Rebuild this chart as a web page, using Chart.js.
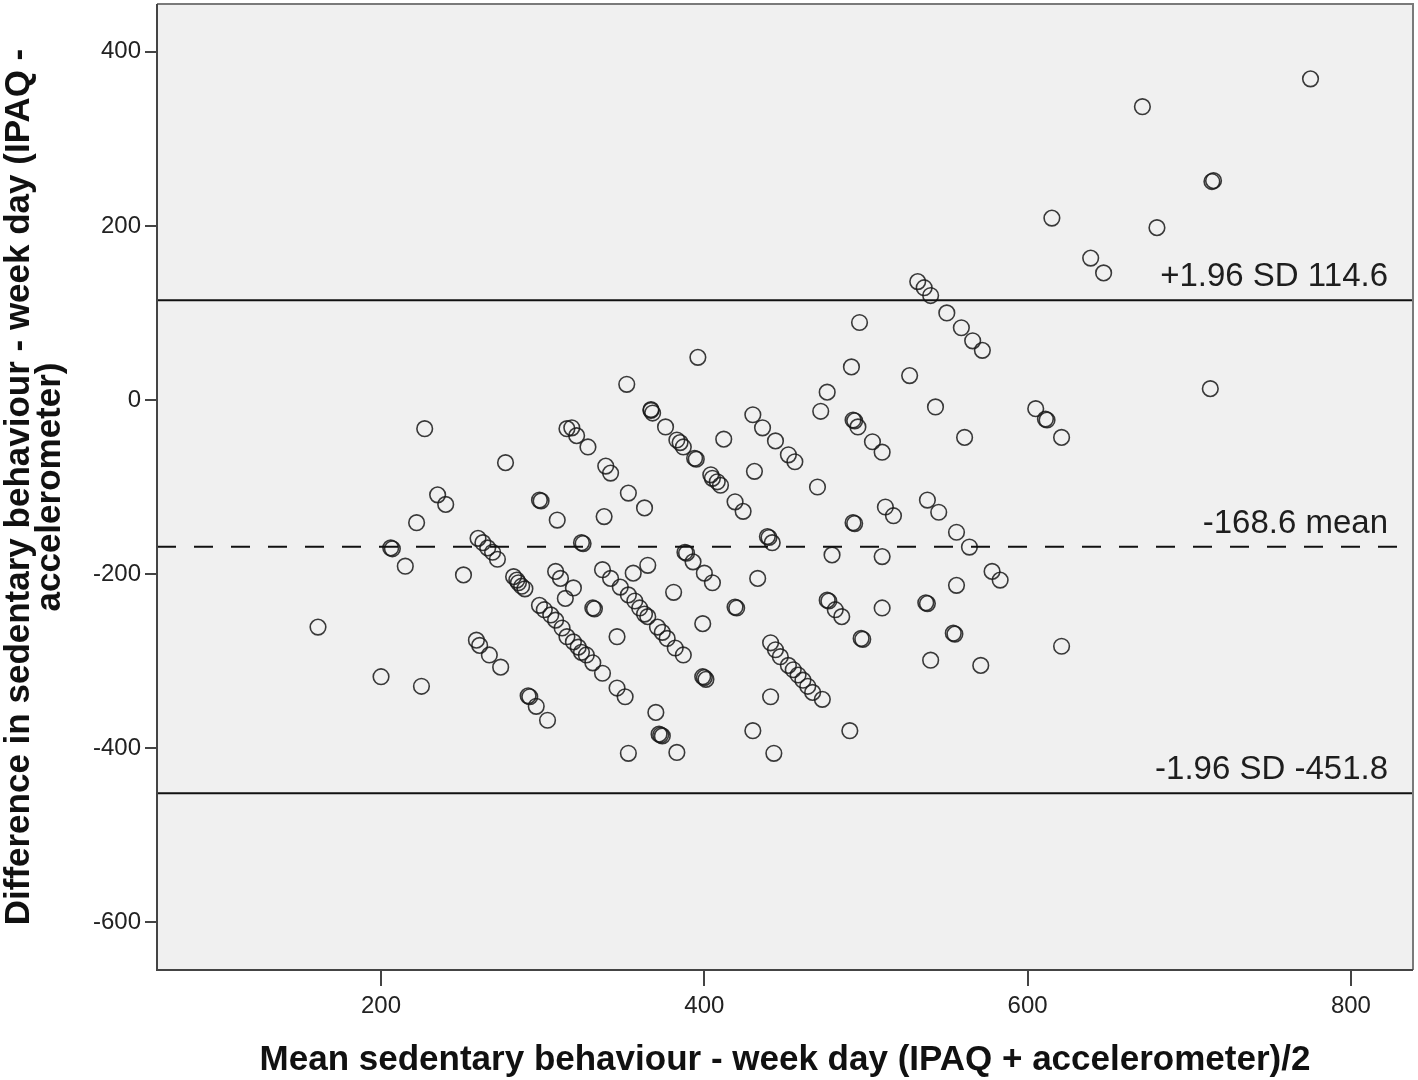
<!DOCTYPE html>
<html>
<head>
<meta charset="utf-8">
<script src="https://cdn.jsdelivr.net/npm/chart.js@4.4.1/dist/chart.umd.min.js"></script>
<style>
  body { margin: 0; background: #ffffff; }
  #wrap { width: 1418px; height: 1080px; }
</style>
</head>
<body>
<div id="wrap"><canvas id="bland" width="1418" height="1080"></canvas></div>
<script>
// Medias (IPAQ + acelerometro)/2
const meanVals = [
  161, 200, 225, 227, 206, 207, 215, 222, 235, 240,
  251, 260, 263, 266, 269, 272, 277, 282, 284, 285,
  287, 289, 298, 299, 309, 315, 259, 261, 267, 274,
  291, 292, 296, 303, 298, 301, 305, 308, 312, 315,
  319, 322, 324, 327, 331, 337, 346, 351, 308, 311,
  319, 314, 318, 321, 328, 339, 342, 353, 363, 338,
  324, 325, 352, 396, 367, 367, 368, 376, 383, 385,
  387, 394, 395, 404, 405, 408, 410, 419, 424, 412,
  430, 436, 444, 452, 456, 431, 470, 476, 472, 491,
  492, 493, 495, 504, 510, 496, 527, 543, 561, 532,
  536, 540, 550, 559, 566, 572, 439, 440, 442, 492,
  493, 512, 517, 538, 545, 556, 564, 479, 510, 388,
  389, 393, 400, 405, 433, 419, 420, 399, 381, 365,
  356, 337, 342, 348, 353, 357, 360, 363, 365, 371,
  374, 377, 382, 387, 331, 332, 346, 476, 477, 481,
  485, 510, 537, 538, 556, 497, 498, 554, 555, 540,
  571, 441, 444, 447, 452, 455, 458, 461, 464, 467,
  473, 399, 400, 401, 370, 373, 374, 372, 353, 383,
  441, 430, 443, 490, 578, 583, 605, 611, 612, 621,
  621, 713, 615, 639, 647, 671, 714, 715, 680, 775
];
// Diferencias (IPAQ - acelerometro)
const diffVals = [
  -261, -318, -329, -33, -170, -171, -191, -141, -109, -120,
  -201, -159, -164, -170, -175, -183, -72, -203, -207, -210,
  -214, -217, -115, -116, -138, -33, -276, -282, -293, -307,
  -340, -341, -352, -368, -236, -241, -247, -253, -262, -272,
  -278, -284, -290, -293, -302, -314, -331, -341, -197, -205,
  -216, -228, -32, -41, -54, -76, -84, -107, -124, -134,
  -164, -165, 18, 49, -11, -12, -15, -31, -46, -49,
  -54, -67, -68, -86, -90, -94, -98, -117, -128, -45,
  -17, -32, -47, -63, -71, -82, -100, 9, -13, 38,
  -23, -24, -31, -48, -60, 89, 28, -8, -43, 136,
  129, 120, 100, 83, 68, 57, -157, -158, -164, -141,
  -142, -123, -133, -115, -129, -152, -169, -178, -180, -175,
  -176, -186, -199, -210, -205, -238, -239, -257, -221, -190,
  -199, -195, -205, -215, -224, -231, -239, -246, -249, -261,
  -267, -274, -285, -293, -239, -240, -272, -230, -231, -241,
  -249, -239, -233, -234, -213, -274, -275, -268, -269, -299,
  -305, -279, -287, -295, -305, -310, -316, -322, -329, -336,
  -344, -318, -319, -321, -359, -385, -386, -384, -406, -405,
  -341, -380, -406, -380, -197, -207, -10, -22, -23, -43,
  -283, 13, 209, 163, 146, 337, 251, 252, 198, 369
];

// Lineas de referencia
const refValues = [114.6, -168.6, -451.8];
const refLabels = ["+1.96 SD 114.6", "-168.6 mean", "-1.96 SD -451.8"];
const refDashed = [false, true, false];

// Marcas de los ejes
const xTicks = [200, 400, 600, 800];
const yTicks = [-600, -400, -200, 0, 200, 400];
const xRange = [61.4, 838.4];
const yRange = [-655, 455];

const xTitle = "Mean sedentary behaviour - week day (IPAQ + accelerometer)/2";
const yTitle = ["Difference in sedentary behaviour - week day (IPAQ -", "accelerometer)"];

const puntos = meanVals.map((m, i) => ({ x: m, y: diffVals[i] }));

const lineasRef = refValues.map((v, i) => ({
  type: "line",
  showLine: true,
  data: [{ x: xRange[0], y: v }, { x: xRange[1], y: v }],
  borderColor: "#111111",
  borderWidth: 2,
  borderDash: refDashed[i] ? [19, 18] : [],
  pointRadius: 0,
  fill: false
}));

// Fondo gris, marco y textos
const decorado = {
  id: "decorado",
  beforeDraw(chart) {
    const { ctx, chartArea: a } = chart;
    ctx.save();
    ctx.fillStyle = "#f0f0f0";
    ctx.fillRect(a.left, a.top, a.right - a.left, a.bottom - a.top);
    ctx.restore();
  },
  afterDraw(chart) {
    const { ctx, chartArea: a, scales } = chart;
    ctx.save();
    // marco
    ctx.strokeStyle = "#7a7a7a";
    ctx.lineWidth = 2;
    ctx.beginPath();
    ctx.moveTo(a.left, a.top);
    ctx.lineTo(a.right, a.top);
    ctx.lineTo(a.right, a.bottom);
    ctx.stroke();
    ctx.strokeStyle = "#444444";
    ctx.beginPath();
    ctx.moveTo(a.left, a.top);
    ctx.lineTo(a.left, a.bottom);
    ctx.lineTo(a.right, a.bottom);
    ctx.stroke();

    // etiquetas de las lineas
    ctx.fillStyle = "#1e1e1e";
    ctx.font = '33px "Liberation Sans", Arial, sans-serif';
    ctx.textAlign = "right";
    ctx.textBaseline = "alphabetic";
    refValues.forEach((v, i) => {
      const y = scales.y.getPixelForValue(v) - 14;
      ctx.fillText(refLabels[i], a.right - 25, y);
    });

    // titulos de ejes
    ctx.fillStyle = "#111111";
    ctx.font = 'bold 35px "Liberation Sans", Arial, sans-serif';
    ctx.textAlign = "center";
    ctx.fillText(xTitle, (a.left + a.right) / 2, 1070);

    ctx.translate(29, (a.top + a.bottom) / 2);
    ctx.rotate(-Math.PI / 2);
    ctx.fillText(yTitle[0], 0, 0);
    ctx.fillText(yTitle[1], 0, 31);
    ctx.restore();
  }
};

new Chart(document.getElementById("bland").getContext("2d"), {
  type: "scatter",
  data: {
    datasets: [
      ...lineasRef,
      {
        label: "Puntos",
        data: puntos,
        pointRadius: 7.8,
        pointBorderWidth: 1.6,
        borderColor: "rgba(25,25,25,0.85)",
        backgroundColor: "rgba(0,0,0,0)",
        pointHoverRadius: 7.8
      }
    ]
  },
  options: {
    responsive: false,
    animation: false,
    layout: { autoPadding: false, padding: { left: 0, right: 5, top: 4, bottom: 0 } },
    plugins: {
      legend: { display: false },
      tooltip: { enabled: false },
      title: { display: false }
    },
    scales: {
      x: {
        type: "linear",
        min: xRange[0],
        max: xRange[1],
        afterBuildTicks: (s) => { s.ticks = xTicks.map(v => ({ value: v })); },
        afterFit: (s) => { s.height = 110; s.paddingLeft = 0; s.paddingRight = 0; },
        grid: { drawOnChartArea: false, drawTicks: true, tickLength: 16, color: "#444444", lineWidth: 2 },
        border: { display: false },
        ticks: {
          padding: 6,
          color: "#222222",
          font: { family: '"Liberation Sans", Arial, sans-serif', size: 24 },
          maxRotation: 0
        }
      },
      y: {
        type: "linear",
        min: yRange[0],
        max: yRange[1],
        afterBuildTicks: (s) => { s.ticks = yTicks.map(v => ({ value: v })); },
        afterFit: (s) => { s.width = 157; s.paddingTop = 0; s.paddingBottom = 0; },
        grid: { drawOnChartArea: false, drawTicks: true, tickLength: 12, color: "#444444", lineWidth: 2 },
        border: { display: false },
        ticks: {
          padding: 4,
          color: "#222222",
          font: { family: '"Liberation Sans", Arial, sans-serif', size: 24 }
        }
      }
    }
  },
  plugins: [decorado]
});
</script>
</body>
</html>
